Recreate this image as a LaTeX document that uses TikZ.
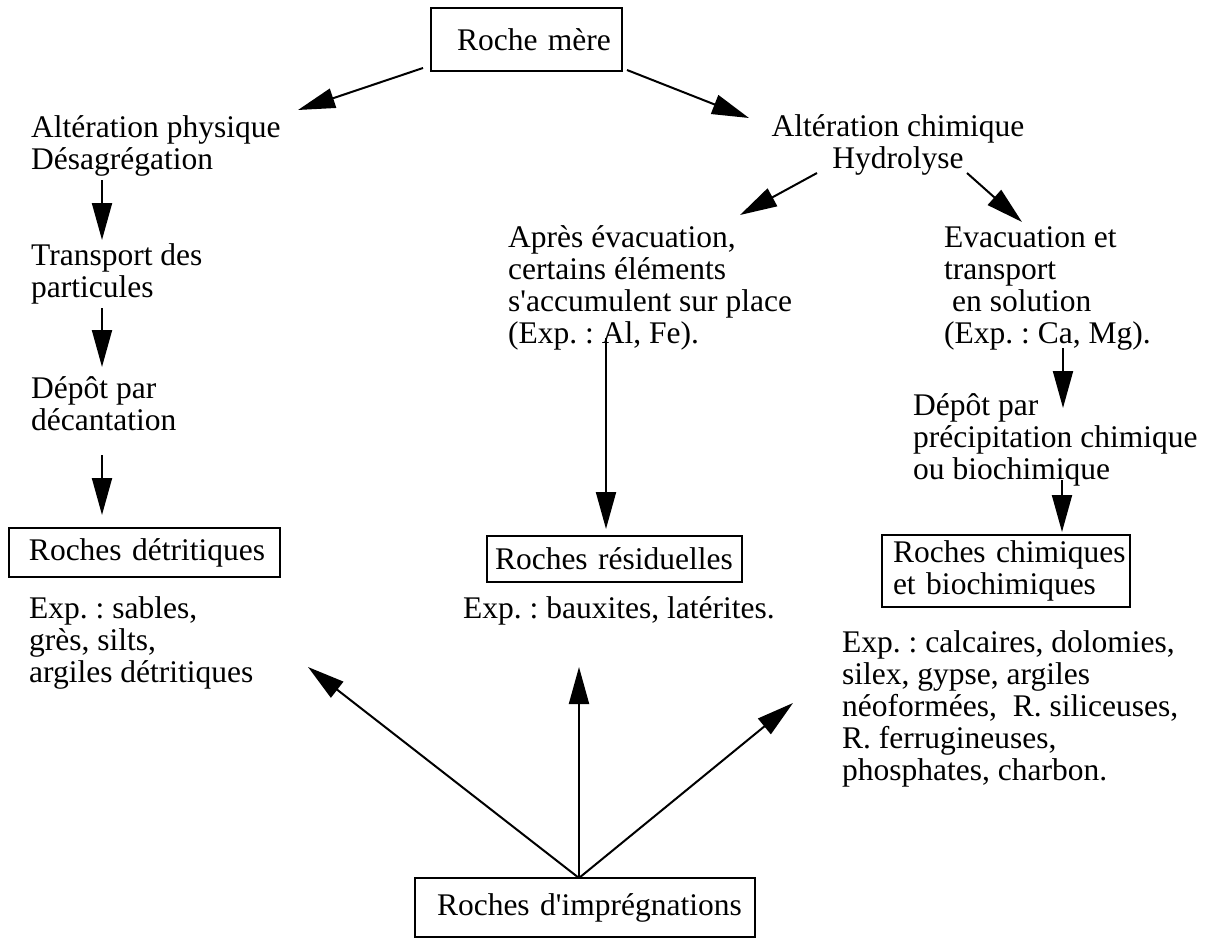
\documentclass[tikz,border=0pt]{standalone}
\usepackage{fontspec}
\setmainfont{Liberation Serif}[Ligatures=TeXOff]
\usetikzlibrary{arrows.meta}
\frenchspacing
\tikzset{
  txt/.style={font=\fontsize{31.5}{32}\selectfont, inner sep=0pt, align=left, anchor=base west},
  ctxt/.style={font=\fontsize{31.5}{32}\selectfont, inner sep=0pt, align=center, anchor=base},
  boxed/.style={draw, line width=2.2pt, inner sep=0pt, font=\fontsize{31.5}{32}\selectfont, align=left},
  arr/.style={line width=2pt, -{Triangle[length=37pt,width=20pt]}},
}
\begin{document}
\begin{tikzpicture}[x=1pt,y=-1pt]
\useasboundingbox (0,0) rectangle (1210,939);
% boxes
\node[boxed, minimum width=191pt, minimum height=63pt, text width=191pt] (rm) at (526.5,39.5) {\hspace*{26pt}Roche mère};
\node[boxed, minimum width=271pt, minimum height=49pt, text width=271pt] (detr) at (144.5,552.5) {\hspace*{20pt}Roches détritiques};
\node[boxed, minimum width=255pt, minimum height=46pt, text width=255pt] (resid) at (614.5,559) {\hspace*{8pt}Roches résiduelles};
\node[boxed, minimum width=248pt, minimum height=72pt, text width=248pt] (chimbox) at (1006,571) {\hspace*{11pt}Roches chimiques\\\hspace*{11pt}et biochimiques};
\node[boxed, minimum width=340pt, minimum height=59pt, text width=340pt] (impr) at (585,907.5) {\hspace*{22pt}Roches d'imprégnations};
% texts (anchor = baseline of the last line)
\node[txt] (phys) at (31,169) {Altération physique\\Désagrégation};
\node[txt] (transp) at (31,297) {Transport des\\particules};
\node[txt] (depot1) at (31,430) {Dépôt par\\décantation};
\node[txt] (exdetr) at (29,682) {Exp. : sables,\\grès, silts,\\argiles détritiques};
\node[ctxt] (chim) at (898,168) {Altération chimique\\Hydrolyse};
\node[txt] (apres) at (508,343) {Après évacuation,\\certains éléments\\s'accumulent sur place\\(Exp. : Al, Fe).};
\node[txt] (evac) at (944,343) {Evacuation et\\transport\\\hspace*{8pt}en solution\\(Exp. : Ca, Mg).};
\node[txt] (exresid) at (463,618) {Exp. : bauxites, latérites.};
\node[txt] (depot2) at (913,479) {Dépôt par\\précipitation chimique\\ou biochimique};
\node[txt] (exchim) at (842,780) {Exp. : calcaires, dolomies,\\silex, gypse, argiles\\néoformées,\ \ R. siliceuses,\\R. ferrugineuses,\\phosphates, charbon.};
% arrow end points
\coordinate (rmL) at (423,68);   \coordinate (physT) at (298,110);
\coordinate (rmR) at (627,70);   \coordinate (chimT) at (749,118);
\coordinate (physB) at (102,180); \coordinate (transpT) at (102,240);
\coordinate (transpB) at (102,308); \coordinate (depot1T) at (102,367);
\coordinate (depot1B) at (102,455); \coordinate (detrT) at (102,515);
\coordinate (chimL) at (817,173); \coordinate (apresT) at (740,215);
\coordinate (chimR) at (967,173); \coordinate (evacT) at (1022,222);
\coordinate (apresB) at (606,338); \coordinate (residT) at (606,529);
\coordinate (evacB) at (1063,348); \coordinate (depot2T) at (1063,408);
\coordinate (depot2B) at (1062,480); \coordinate (chimboxT) at (1062,532);
\coordinate (imprT) at (579,878);
\coordinate (exdetrE) at (308,667);
\coordinate (exresidE) at (579,667);
\coordinate (exchimE) at (793,703);
% arrows
\draw[arr] (rmL) -- (physT);
\draw[arr] (rmR) -- (chimT);
\draw[arr] (physB) -- (transpT);
\draw[arr] (transpB) -- (depot1T);
\draw[arr] (depot1B) -- (detrT);
\draw[arr] (chimL) -- (apresT);
\draw[arr] (chimR) -- (evacT);
\draw[arr] (apresB) -- (residT);
\draw[arr] (evacB) -- (depot2T);
\draw[arr] (depot2B) -- (chimboxT);
\draw[arr] (imprT) -- (exdetrE);
\draw[arr] (imprT) -- (exresidE);
\draw[arr] (imprT) -- (exchimE);
\end{tikzpicture}
\end{document}
